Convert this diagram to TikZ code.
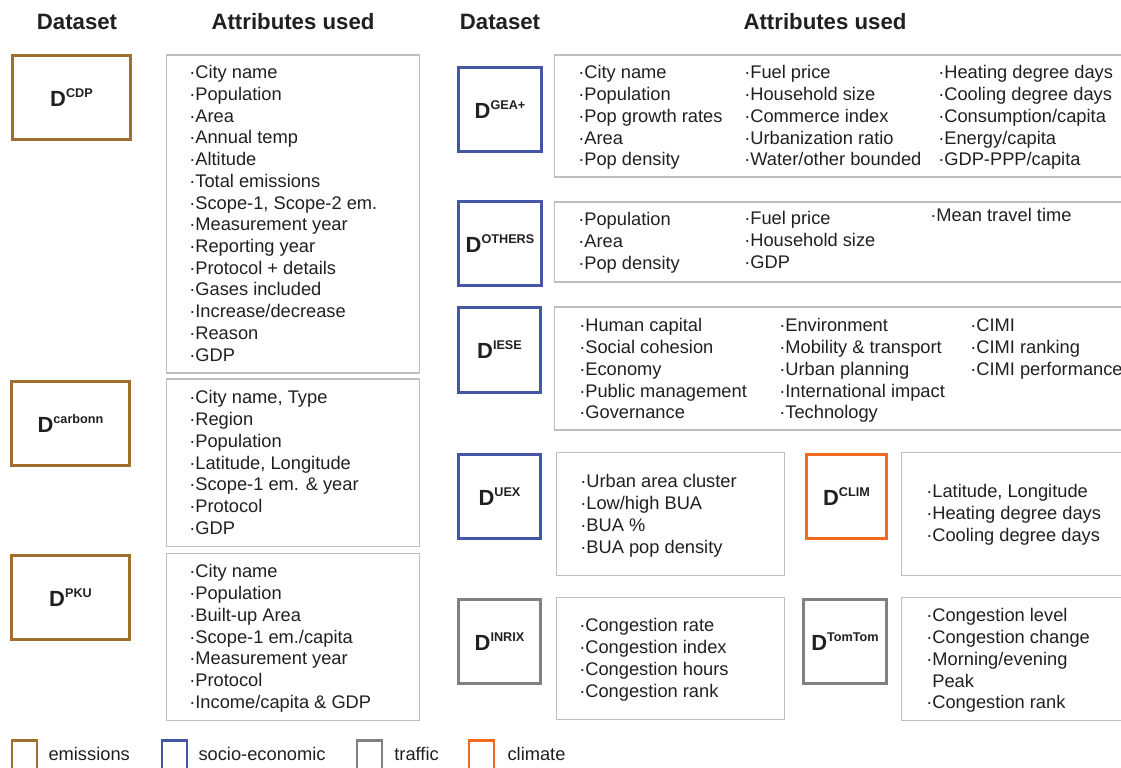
\documentclass[tikz,border=0pt]{standalone}
\usepackage{fontspec}
\setmainfont{Liberation Sans}
\usepackage{xcolor}
\usetikzlibrary{positioning}
\definecolor{emis}{HTML}{A06E2D}
\definecolor{socio}{HTML}{4656A6}
\definecolor{traf}{HTML}{808080}
\definecolor{clim}{HTML}{F26A22}
\definecolor{attrgray}{HTML}{BEBEBE}
\definecolor{txt}{HTML}{231F20}
\newcommand{\attrfont}{\fontsize{13}{15.44}\selectfont}
\newcommand{\dlab}[1]{{\fontsize{15.6}{16}\selectfont\bfseries D\raisebox{6.5pt}{\fontsize{9}{9}\selectfont #1}}}

\begin{document}
\begin{tikzpicture}[x=0.025cm,y=-0.025cm,
	dset/.style={draw=#1,line width=1.8pt,inner sep=0pt,text=txt},
	boxsize/.style 2 args={minimum width=#1*0.025cm,minimum height=#2*0.025cm},
	attr/.style={draw=attrgray,line width=1pt,inner sep=0pt,anchor=north west},
	atxt/.style={anchor=base west,align=left,inner sep=0pt,font=\attrfont,text=txt},
	head/.style={font=\fontsize{15.8}{16}\selectfont\bfseries,text=txt},
	legbox/.style={draw=#1,line width=1.8pt,inner sep=0pt,minimum width=25*0.025cm,minimum height=33*0.025cm},
	legtxt/.style={font=\attrfont,text=txt,inner sep=0pt,yshift=2pt}]
	\useasboundingbox (0,0) rectangle (1121,768);
	\clip (0,0) rectangle (1121,768);

	\node[head] (h1) at (77,22)  {Dataset};
	\node[head] (h2) at (293,22) {Attributes used};
	\node[head] (h3) at (500,22) {Dataset};
	\node[head] (h4) at (825,22) {Attributes used};

	% emissions datasets
	\node[dset=emis,boxsize={118.5}{84.5}] (cdp)     at (71.5,97.5)  {\dlab{CDP}};
	\node[dset=emis,boxsize={118.5}{84.5}] (carbonn) at (70.5,423.5) {\dlab{carbonn}};
	\node[dset=emis,boxsize={118.5}{84.5}] (pku)     at (70.5,597.5) {\dlab{PKU}};

	\node[attr,boxsize={253}{318}] (cdpA)     at (165.5,54.5)  {};
	\node[attr,boxsize={253}{167}] (carbonnA) at (165.5,378.5) {};
	\node[attr,boxsize={253}{167}] (pkuA)     at (165.5,552.5) {};

	% base of a text block = baseline of its last line
	\node[atxt] (cdpT) at (189,361.1) {·City name\\·Population\\·Area\\·Annual temp\\·Altitude\\·Total emissions\\
		·Scope-1, Scope-2 em.\\·Measurement year\\·Reporting year\\·Protocol + details\\·Gases included\\
		·Increase/decrease\\·Reason\\·GDP};
	\node[atxt] (carbonnT) at (189,534.2) {·City name, Type\\·Region\\·Population\\·Latitude, Longitude\\
		·Scope-1 em. \& year\\·Protocol\\·GDP};
	\node[atxt] (pkuT) at (189,708.2) {·City name\\·Population\\·Built-up Area\\·Scope-1 em./capita\\
		·Measurement year\\·Protocol\\·Income/capita \& GDP};

	% socio-economic, climate and traffic datasets
	\node[dset=socio,boxsize={83.5}{84.5}] (gea)    at (500,109.5)  {\dlab{GEA+}};
	\node[dset=socio,boxsize={83.5}{84.5}] (others) at (500,243.5)  {\dlab{OTHERS}};
	\node[dset=socio,boxsize={82.5}{85.5}] (iese)   at (499.5,350)  {\dlab{IESE}};
	\node[dset=socio,boxsize={82.5}{84.5}] (uex)    at (499.5,496.5){\dlab{UEX}};
	\node[dset=clim,boxsize={80.5}{84.5}]  (clim)   at (846.5,496.5){\dlab{CLIM}};
	\node[dset=traf,boxsize={82.5}{84.5}]  (inrix)  at (499.5,641.5){\dlab{INRIX}};
	\node[dset=traf,boxsize={83.5}{84.5}]  (tomtom) at (845,641.5)  {\dlab{TomTom}};

	\node[attr,boxsize={576}{122}] (geaA)    at (553.5,54.5)  {};
	\node[attr,boxsize={576}{80}]  (othersA) at (553.5,201.5) {};
	\node[attr,boxsize={576}{123}] (ieseA)   at (553.5,306.5) {};
	\node[attr,boxsize={228}{123}] (uexA)    at (555.5,451.5) {};
	\node[attr,boxsize={229}{123}] (climA)   at (900.5,451.5) {};
	\node[attr,boxsize={228}{122}] (inrixA)  at (555.5,596.5) {};
	\node[attr,boxsize={229}{123}] (tomtomA) at (900.5,596.5) {};

	\node[atxt] (geaT1) at (578,165.8) {·City name\\·Population\\·Pop growth rates\\·Area\\·Pop density};
	\node[atxt] (geaT2) at (744,165.8) {·Fuel price\\·Household size\\·Commerce index\\·Urbanization ratio\\·Water/other bounded};
	\node[atxt] (geaT3) at (938,165.8) {·Heating degree days\\·Cooling degree days\\·Consumption/capita\\·Energy/capita\\·GDP-PPP/capita};

	\node[atxt] (othersT1) at (578,269.4) {·Population\\·Area\\·Pop density};
	\node[atxt] (othersT2) at (744,268.4) {·Fuel price\\·Household size\\·GDP};
	\node[atxt] (othersT3) at (930,222)   {·Mean travel time};

	\node[atxt] (ieseT1) at (579,418.8) {·Human capital\\·Social cohesion\\·Economy\\·Public management\\·Governance};
	\node[atxt] (ieseT2) at (779,418.8) {·Environment\\·Mobility \& transport\\·Urban planning\\·International impact\\·Technology};
	\node[atxt] (ieseT3) at (970,375.4) {·CIMI\\·CIMI ranking\\·CIMI performance};

	\node[atxt] (uexT)    at (580,553.1) {·Urban area cluster\\·Low/high BUA\\·BUA \%\\·BUA pop density};
	\node[atxt] (climT)   at (926,541.4) {·Latitude, Longitude\\·Heating degree days\\·Cooling degree days};
	\node[atxt] (inrixT)  at (579,697.1) {·Congestion rate\\·Congestion index\\·Congestion hours\\·Congestion rank};
	\node[atxt] (tomtomT) at (926,708.8) {·Congestion level\\·Congestion change\\·Morning/evening\\\phantom{·}Peak\\·Congestion rank};

	% legend
	\node[legbox=emis]  (lemis)  at (24.5,757)  {};
	\node[legbox=socio] (lsocio) at (174.5,757) {};
	\node[legbox=traf]  (ltraf)  at (369.5,757) {};
	\node[legbox=clim]  (lclim)  at (481.5,757) {};
	\node[legtxt,anchor=west,right=0.25cm of lemis]  (temis)  {emissions};
	\node[legtxt,anchor=west,right=0.25cm of lsocio] (tsocio) {socio-economic};
	\node[legtxt,anchor=west,right=0.27cm of ltraf]  (ttraf)  {traffic};
	\node[legtxt,anchor=west,right=0.3cm of lclim]   (tclim)  {climate};
\end{tikzpicture}
\end{document}
